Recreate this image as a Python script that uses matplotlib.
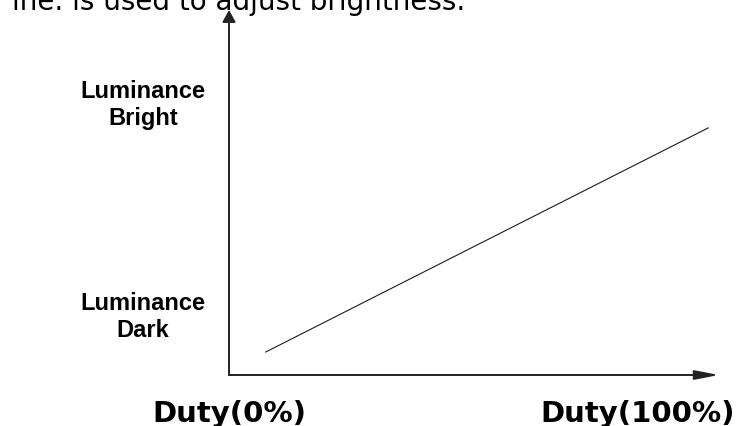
import matplotlib
matplotlib.use("Agg")
import matplotlib.pyplot as plt

# data
duty = [7.5, 97.8]
luminance = [6.3, 67.7]
x_tick_pos = [0, 83.3]
x_tick_labels = ["Duty(0%)", "Duty(100%)"]
y_tick_pos = [75.6, 17.4]
y_tick_labels = ["Luminance\nBright", "Luminance\nDark"]
caption = "ine. is used to adjust brightness."

W, H = 745, 427
plt.rcParams['font.family'] = ['DejaVu Sans']

fig = plt.figure(figsize=(W / 100, H / 100), dpi=100)
ax = fig.add_axes([229 / W, (H - 376) / H, (719 - 229) / W, (376 - 11) / H])
ax.set_xlim(0, 100)
ax.set_ylim(0, 100)
for s in ax.spines.values():
    s.set_visible(False)

ax.plot(duty, luminance, color='#1a1a1a', lw=0.8)

# axes drawn as arrows
ax.annotate('', xy=(100, 0), xytext=(0, 0), annotation_clip=False,
            arrowprops=dict(arrowstyle='-|>,head_length=1.45,head_width=0.28',
                            mutation_scale=10, lw=1.4, color='#222222',
                            shrinkA=0, shrinkB=0))
ax.annotate('', xy=(0, 100), xytext=(0, 0), annotation_clip=False,
            arrowprops=dict(arrowstyle='-|>,head_length=0.72,head_width=0.4',
                            mutation_scale=10, lw=1.4, color='#222222',
                            shrinkA=0, shrinkB=0))

ax.set_xticks(x_tick_pos, x_tick_labels, fontsize=21, fontweight='bold')
ax.set_yticks(y_tick_pos, y_tick_labels, fontsize=17, fontweight='bold',
              family=['Liberation Sans', 'DejaVu Sans'])
ax.tick_params(length=0)
ax.tick_params(axis='x', pad=17)
ax.tick_params(axis='y', pad=62)
for t in ax.get_yticklabels():
    t.set_ha('center')
    t.set_multialignment('center')
    t.set_linespacing(1.25)

fig.text(12 / W, 1 - 10 / H, caption, fontsize=20, va='baseline', ha='left')

fig.savefig('out.png', dpi=100)
